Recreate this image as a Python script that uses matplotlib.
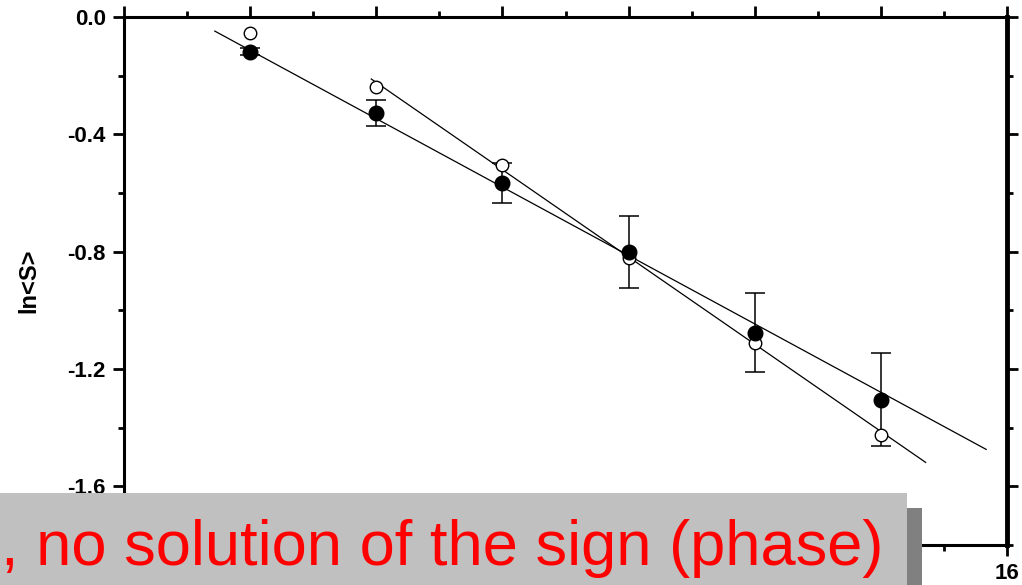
import matplotlib
matplotlib.use('Agg')
import matplotlib.pyplot as plt
import numpy as np
from matplotlib.patches import Rectangle
from matplotlib.ticker import MultipleLocator, FormatStrFormatter

plt.rcParams['font.family'] = ['Liberation Sans', 'DejaVu Sans']
plt.rcParams['axes.unicode_minus'] = False

# data
x_vals = [4, 6, 8, 10, 12, 14]
filled_y = [-0.119, -0.327, -0.565, -0.800, -1.076, -1.304]
filled_err = [0.012, 0.045, 0.068, 0.123, 0.135, 0.158]
open_y = [-0.054, -0.238, -0.504, -0.820, -1.110, -1.426]

# fitted lines (slope, intercept) and their drawn extent
filled_fit = (-0.1166, 0.353)
filled_fit_range = [3.44, 15.67]
open_fit = (-0.1487, 0.669)
open_fit_range = [5.92, 14.71]

# x tick labels: only the last one is visible, the rest sit under the caption box
x_ticks = [2, 4, 6, 8, 10, 12, 14, 16]
x_tick_labels = ['', '', '', '', '', '', '', '16']

caption = ', no solution of the sign (phase)'

W, H = 1022, 585
fig = plt.figure(figsize=(W / 100, H / 100), dpi=100)
ax = fig.add_axes([124 / W, 1 - 545 / H, (1007 - 124) / W, (545 - 17) / H])

for (m, b), rng in [(filled_fit, filled_fit_range), (open_fit, open_fit_range)]:
    xs = np.array(rng)
    ax.plot(xs, m * xs + b, color='black', lw=0.9, zorder=2)

ax.errorbar(x_vals, filled_y, yerr=filled_err, fmt='none', ecolor='black',
            elinewidth=1.1, capsize=7.5, capthick=1.1, zorder=3)
ax.plot(x_vals, open_y, 'o', mfc='white', mec='black', mew=1.0, ms=9, zorder=4)
ax.plot(x_vals, filled_y, 'o', color='black', ms=10.5, zorder=5)

ax.set_xlim(2, 16)
ax.set_ylim(-1.8, 0.0)
ax.set_xticks(x_ticks)
ax.set_xticklabels(x_tick_labels)
ax.xaxis.set_minor_locator(MultipleLocator(1))
ax.yaxis.set_major_locator(MultipleLocator(0.4))
ax.yaxis.set_minor_locator(MultipleLocator(0.2))
ax.yaxis.set_major_formatter(FormatStrFormatter('%.1f'))

ax.tick_params(which='both', direction='out', top=True, right=True,
               labeltop=False, labelright=False, width=2)
ax.tick_params(which='major', length=8, pad=5, labelsize=16)
ax.tick_params(which='minor', length=4)
for lab in ax.get_xticklabels() + ax.get_yticklabels():
    lab.set_fontweight('bold')

for side in ['left', 'top', 'bottom']:
    ax.spines[side].set_linewidth(2.2)
ax.spines['right'].set_linewidth(3.5)

ax.set_ylabel('ln<S>', fontsize=17, fontweight='bold')
ax.yaxis.set_label_coords(-0.095, 0.5)

# gray caption box with shadow over the bottom of the chart
fig.patches.append(Rectangle((15 / W, -15 / H), 907 / W, 92 / H,
                             transform=fig.transFigure, facecolor='#808080',
                             edgecolor='none', zorder=10))
fig.patches.append(Rectangle((0, 0), 907 / W, 92 / H,
                             transform=fig.transFigure, facecolor='#c0c0c0',
                             edgecolor='none', zorder=11))
fig.text(883 / W, 1 - 565 / H, caption, color='red', fontsize=45.5,
         ha='right', va='baseline', zorder=12)

fig.savefig('out.png', dpi=100)
